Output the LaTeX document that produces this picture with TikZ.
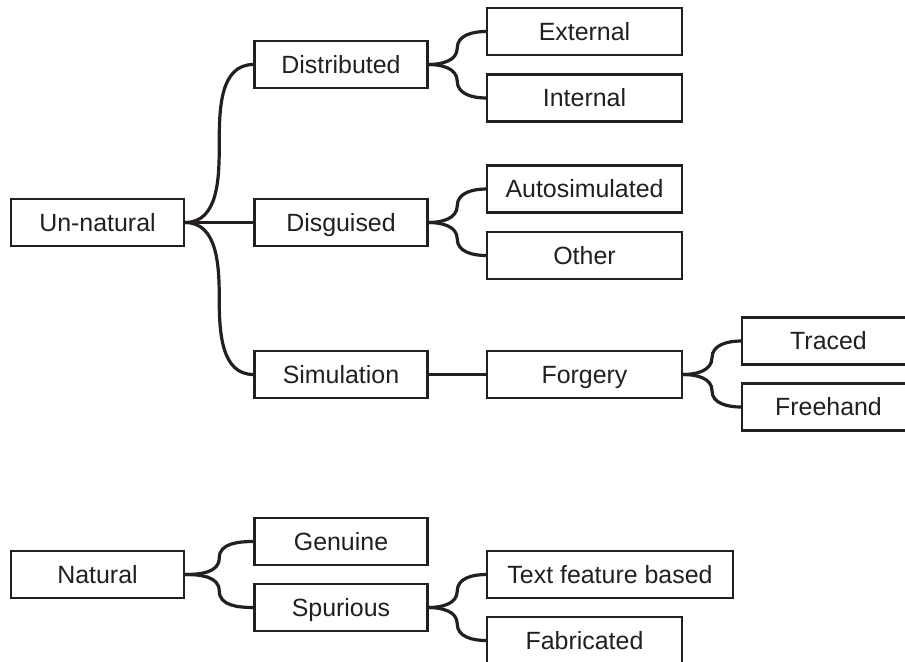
\documentclass[tikz,border=0pt]{standalone}
\usepackage{fontspec}
\setmainfont{Liberation Sans}
\usetikzlibrary{calc}
\definecolor{ink}{RGB}{35,31,32}
\begin{document}
\begin{tikzpicture}[x=0.75pt,y=0.75pt,
  box/.style={draw=ink,line width=1.6pt,fill=white,text=ink,inner sep=0pt,
    minimum height=35.25pt,text height=13.3pt,text depth=0pt,
    font=\fontsize{18.7}{22}\selectfont},
  boxa/.style={box,minimum width=129.75pt},
  boxb/.style={box,minimum width=146.25pt},
  boxc/.style={box,minimum width=184.5pt},
  link/.style={draw=ink,line width=2.4pt,line cap=round}]
\useasboundingbox (0,0) rectangle (905,-661);
\clip (0,0) rectangle (905,-661);

\node[boxa] (un)   at (97.5,-222.5) {Un-natural};
\node[boxa] (dist) at (341,-64.5)   {Distributed};
\node[boxa] (disg) at (341,-222.5)  {Disguised};
\node[boxa] (sim)  at (341,-374.5)  {Simulation};
\node[boxb] (ext)  at (584.5,-31.5) {External};
\node[boxb] (int)  at (584.5,-98)   {Internal};
\node[boxb] (auto) at (584.5,-189)  {Autosimulated};
\node[boxb] (oth)  at (584.5,-255.5){Other};
\node[boxb] (forg) at (584.5,-374.5){Forgery};
\node[boxa] (trc)  at (828.5,-341)  {Traced};
\node[boxa] (frh)  at (828.5,-407)  {Freehand};
\node[boxa] (nat)  at (97.5,-574.5) {Natural};
\node[boxa] (gen)  at (341,-541.5)  {Genuine};
\node[boxa] (spu)  at (341,-607.5)  {Spurious};
\node[boxc] (tfb)  at (610,-574.5)  {Text feature based};
\node[boxb] (fab)  at (584.5,-640.5){Fabricated};

% upward branches
\foreach \p/\c in {un/dist, dist/ext, disg/auto, forg/trc, nat/gen, spu/tfb}{
  \draw[link] (\p.east) to[out=0,in=-90] ($(\p.east)!0.5!(\c.west)$) to[out=90,in=180] (\c.west);
}
% downward branches
\foreach \p/\c in {un/sim, dist/int, disg/oth, forg/frh, nat/spu, spu/fab}{
  \draw[link] (\p.east) to[out=0,in=90] ($(\p.east)!0.5!(\c.west)$) to[out=-90,in=180] (\c.west);
}
% straight links
\draw[link] (un.east) -- (disg.west);
\draw[link] (sim.east) -- (forg.west);
\end{tikzpicture}
\end{document}
